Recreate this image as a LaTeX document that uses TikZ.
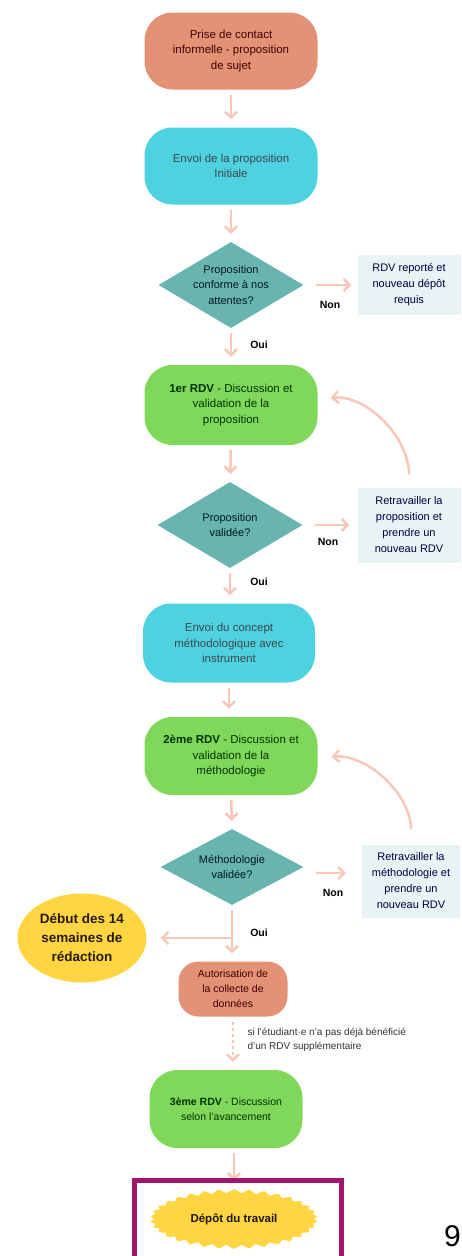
\documentclass[tikz,border=0pt]{standalone}
\usepackage{fontspec}
\setmainfont{Liberation Sans}
\usepackage{xcolor}
\usepackage{tikz}
\usetikzlibrary{shapes.geometric,shapes.symbols,arrows.meta}

\definecolor{saumon}{RGB}{228,146,118}
\definecolor{cyanbox}{RGB}{78,210,224}
\definecolor{vert}{RGB}{128,216,90}
\definecolor{sarcelle}{RGB}{104,180,177}
\definecolor{grisbleu}{RGB}{233,242,245}
\definecolor{jaune}{RGB}{255,214,66}
\definecolor{fleche}{RGB}{247,199,184}
\definecolor{cadre}{RGB}{160,22,108}

\tikzset{
  pill/.style={rounded corners=28pt, minimum width=173pt, minimum height=77pt,
    align=center, font=\fontsize{11.5}{15.5}\selectfont},
  decision/.style={diamond, aspect=1.7, fill=sarcelle, inner sep=0pt, minimum width=145pt,
    minimum height=86pt, align=center, text=black!80!teal,
    font=\fontsize{11}{15.5}\selectfont},
  remarque/.style={fill=grisbleu, minimum width=103pt, align=center,
    text=black!75!blue, font=\fontsize{11}{16}\selectfont},
  flow/.style={draw=fleche, line width=2.5pt, -{Straight Barb[length=6pt,width=12pt]},
    shorten <=5pt, shorten >=8pt},
  reponse/.style={font=\fontsize{10.5}{12}\selectfont\bfseries}
}

\begin{document}
\begin{tikzpicture}[x=1pt,y=-1pt]

\useasboundingbox (0,0) rectangle (462,1256);

% Main column
\node[pill, fill=saumon, text=black!75!red] (contact) at (231,51)
  {Prise de contact\\informelle - proposition\\de sujet};          % Start
\node[pill, fill=cyanbox, text=black!80!cyan] (envoi) at (231,166)
  {Envoi de la proposition\\Initiale};                              % Send
\node[decision] (conforme) at (231,285)
  {Proposition\\conforme à nos\\attentes?};                         % Check 1
\node[pill, fill=vert, text=black!80!green, minimum height=80pt] (rdv1) at (231,405)
  {\textbf{1er RDV} - Discussion et\\validation de la\\proposition}; % Meeting 1
\node[decision] (valide) at (230,525)
  {Proposition\\validée?};                                          % Check 2
\node[pill, fill=cyanbox, text=black!80!cyan, minimum width=172pt, minimum height=79pt] (concept) at (229,643)
  {Envoi du concept\\méthodologique avec\\instrument};               % Concept
\node[pill, fill=vert, text=black!80!green, minimum height=78pt] (rdv2) at (231,756)
  {\textbf{2ème RDV} - Discussion et\\validation de la\\méthodologie}; % Meeting 2
\node[decision, minimum width=143pt, minimum height=76pt] (methodo) at (232,867)
  {Méthodologie\\validée?};                                         % Check 3
\node[pill, fill=saumon, text=black!75!red, rounded corners=20pt,
  minimum width=109pt, minimum height=55pt, font=\fontsize{10.5}{15}\selectfont] (autor) at (233,989)
  {Autorisation de\\la collecte de\\données};                       % Authorisation
\node[pill, fill=vert, text=black!80!green, minimum width=153pt, minimum height=78pt,
  font=\fontsize{10.5}{15}\selectfont] (rdv3) at (226,1109)
  {\textbf{3ème RDV} - Discussion\\selon l'avancement};              % Meeting 3
\node[starburst, fill=jaune, starburst points=34, starburst point height=4pt,
  random starburst=0, minimum width=168pt, minimum height=60pt,
  font=\fontsize{11.5}{13}\selectfont\bfseries, text=black!85!brown] (depot) at (234,1219)
  {Dépôt du travail};                                               % End

% Side boxes
\node[remarque, minimum height=60pt] (reporte) at (409,285)
  {RDV reporté et\\nouveau dépôt\\requis};
\node[remarque, minimum height=75pt] (retravailA) at (409,525)
  {Retravailler la\\proposition et\\prendre un\\nouveau RDV};
\node[remarque, minimum width=98pt, minimum height=73pt] (retravailB) at (411,881)
  {Retravailler la\\méthodologie et\\prendre un\\nouveau RDV};
\node[ellipse, fill=jaune, minimum width=129pt, minimum height=89pt, align=center,
  text=black!80!brown, font=\fontsize{13.5}{19}\selectfont\bfseries] (debut) at (82,938)
  {Début des 14\\semaines de\\rédaction};

% Oui / Non
\node[reponse] (non1) at (330,305) {Non};
\node[reponse] (oui1) at (259,345) {Oui};
\node[reponse] (non2) at (328,542) {Non};
\node[reponse] (oui2) at (259,582) {Oui};
\node[reponse] (non3) at (333,893) {Non};
\node[reponse] (oui3) at (259,933) {Oui};
\node[align=left, anchor=west, font=\fontsize{10}{14}\selectfont, text=black!80] (note) at (244,1040)
  {si l'étudiant·e n'a pas déjà bénéficié\\d'un RDV supplémentaire};

% Arrows down
\draw[flow] (contact) -- (envoi);
\draw[flow] (envoi) -- (conforme);
\draw[flow] (conforme) -- (rdv1);
\draw[flow] (rdv1) -- (valide);
\draw[flow] (valide.south) -- (valide.south |- concept.north);
\draw[flow] (concept.south) -- (concept.south |- rdv2.north);
\draw[flow] (rdv2) -- (methodo);
\draw[flow] (methodo.south) -- (methodo.south |- autor.north);
\draw[flow, dashed] (autor.south) -- (autor.south |- rdv3.north);
\draw[flow] (depot.north |- rdv3.south) -- (depot.north);

% Arrows right
\draw[flow, shorten <=12pt, shorten >=6pt] (conforme.east) -- (reporte.west);
\draw[flow, shorten <=12pt, shorten >=8pt] (valide.east) -- (retravailA.west);
\draw[flow, shorten <=12pt, shorten >=16pt] (methodo.east) ++(0,-6pt) coordinate (mA) -- (mA -| retravailB.west);

% Loops back
\draw[flow, shorten <=13pt, shorten >=13pt] (retravailA.north) to[out=90, in=5] ([yshift=6pt]rdv1.east);
\draw[flow, shorten <=15pt, shorten >=14pt] (retravailB.north) to[out=90, in=5] ([yshift=-2pt]rdv2.east);

% Left to start of writing
\coordinate (oui3pt) at (methodo.south |- debut.east);
\draw[flow, shorten <=0pt, shorten >=14pt] (oui3pt) -- (debut.east);

% Frame and page number
\draw[cadre, line width=5pt] (134,1180) rectangle (341,1260);
\node[anchor=west, inner sep=0pt, font=\fontsize{30}{30}\selectfont] (page) at (444,1236) {9};

\end{tikzpicture}
\end{document}
